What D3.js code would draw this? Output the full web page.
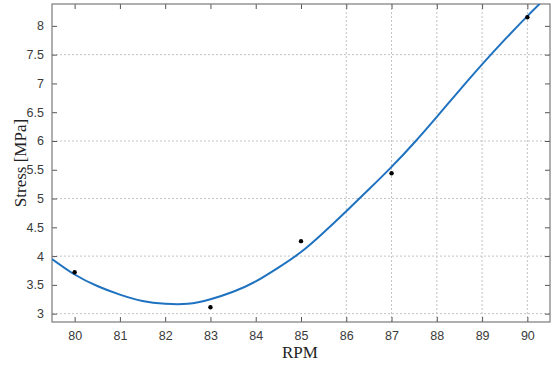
<!DOCTYPE html>
<html>
<head>
<meta charset="utf-8">
<script src="https://cdn.jsdelivr.net/npm/d3@7"></script>
<style>
body { margin: 0; background: #fff; }
</style>
</head>
<body>
<script>
var w = 551;
var h = 367;

// measured points
var rpm = [80, 83, 85, 87, 90];
var stress = [3.72, 3.11, 4.26, 5.44, 8.15];

// fitted curve
var fitX = [79.5, 80, 80.5, 81, 81.5, 82, 82.5, 83, 83.5, 84, 84.5, 85, 85.5, 86, 86.5, 87, 87.5, 88, 88.5, 89, 89.5, 90, 90.5];
var fitY = [3.95, 3.68, 3.48, 3.33, 3.22, 3.17, 3.17, 3.25, 3.38, 3.56, 3.8, 4.07, 4.41, 4.78, 5.16, 5.55, 5.97, 6.42, 6.88, 7.33, 7.76, 8.17, 8.56];

var xTicks = [80, 81, 82, 83, 84, 85, 86, 87, 88, 89, 90];
var yTicks = [3, 3.5, 4, 4.5, 5, 5.5, 6, 6.5, 7, 7.5, 8];
var xGrid = [86, 87, 88, 89, 90];
var yGrid = [3, 4, 5, 6, 7.5];

var plotL = 52, plotR = 550, plotT = 4, plotB = 322;

var xScale = d3.scaleLinear()
    .domain([79.5, 90.5])
    .range([plotL, plotR]);
var yScale = d3.scaleLinear()
    .domain([2.855, 8.38])
    .range([plotB, plotT]);

var svg = d3.select("body")
    .append("svg")
    .attr("width", w)
    .attr("height", h);

svg.append("clipPath")
    .attr("id", "plot")
    .append("rect")
    .attr("x", plotL)
    .attr("y", plotT)
    .attr("width", plotR - plotL)
    .attr("height", plotB - plotT);

// grid
svg.selectAll(".gx")
    .data(xGrid)
    .enter()
    .append("line")
    .attr("x1", function(d){ return xScale(d); })
    .attr("x2", function(d){ return xScale(d); })
    .attr("y1", plotT)
    .attr("y2", plotB)
    .attr("stroke", "#c4c4c4")
    .attr("stroke-dasharray", "2,2")
    .attr("stroke-width", 1);
svg.selectAll(".gy")
    .data(yGrid)
    .enter()
    .append("line")
    .attr("x1", plotL)
    .attr("x2", plotR)
    .attr("y1", function(d){ return yScale(d); })
    .attr("y2", function(d){ return yScale(d); })
    .attr("stroke", "#c4c4c4")
    .attr("stroke-dasharray", "2,2")
    .attr("stroke-width", 1);

// axes with inward ticks on all sides
var tickStyle = function(g){
    g.select(".domain").remove();
    g.selectAll(".tick line").attr("stroke", "#555");
    g.selectAll(".tick text")
        .attr("font-family", "Liberation Sans, Arial, sans-serif")
        .attr("font-size", "12.5px")
        .attr("fill", "#3a3a3a");
};

svg.append("g")
    .attr("transform", "translate(0," + plotB + ")")
    .call(d3.axisBottom(xScale).tickValues(xTicks).tickSizeInner(-5).tickPadding(9).tickFormat(d3.format("d")))
    .call(tickStyle);
svg.append("g")
    .attr("transform", "translate(0," + plotT + ")")
    .call(d3.axisTop(xScale).tickValues(xTicks).tickSizeInner(-5).tickFormat(""))
    .call(tickStyle);
svg.append("g")
    .attr("transform", "translate(" + plotL + ",0)")
    .call(d3.axisLeft(yScale).tickValues(yTicks).tickSizeInner(-5).tickPadding(8).tickFormat(d3.format("")))
    .call(tickStyle);
svg.append("g")
    .attr("transform", "translate(" + plotR + ",0)")
    .call(d3.axisRight(yScale).tickValues(yTicks).tickSizeInner(-5).tickFormat(""))
    .call(tickStyle);

svg.append("rect")
    .attr("x", plotL)
    .attr("y", plotT)
    .attr("width", plotR - plotL)
    .attr("height", plotB - plotT)
    .attr("fill", "none")
    .attr("stroke", "#7a7a7a")
    .attr("stroke-width", 1.2);

// fitted line
var line = d3.line()
    .x(function(d, i){ return xScale(fitX[i]); })
    .y(function(d, i){ return yScale(fitY[i]); })
    .curve(d3.curveNatural);

svg.append("path")
    .datum(fitX)
    .attr("clip-path", "url(#plot)")
    .attr("d", line)
    .attr("fill", "none")
    .attr("stroke", "#1f72bf")
    .attr("stroke-width", 2);

// data points
svg.selectAll(".pt")
    .data(rpm)
    .enter()
    .append("circle")
    .attr("cx", function(d){ return xScale(d); })
    .attr("cy", function(d, i){ return yScale(stress[i]); })
    .attr("r", 2.2)
    .attr("fill", "#000");

// labels
svg.append("text")
    .text("RPM")
    .attr("x", 300)
    .attr("y", 358)
    .attr("text-anchor", "middle")
    .attr("font-family", "Liberation Serif, Times New Roman, serif")
    .attr("font-size", "17px")
    .attr("fill", "#222");
svg.append("text")
    .text("Stress [MPa]")
    .attr("transform", "translate(26,163) rotate(-90)")
    .attr("text-anchor", "middle")
    .attr("font-family", "Liberation Serif, Times New Roman, serif")
    .attr("font-size", "17px")
    .attr("fill", "#222");
</script>
</body>
</html>
